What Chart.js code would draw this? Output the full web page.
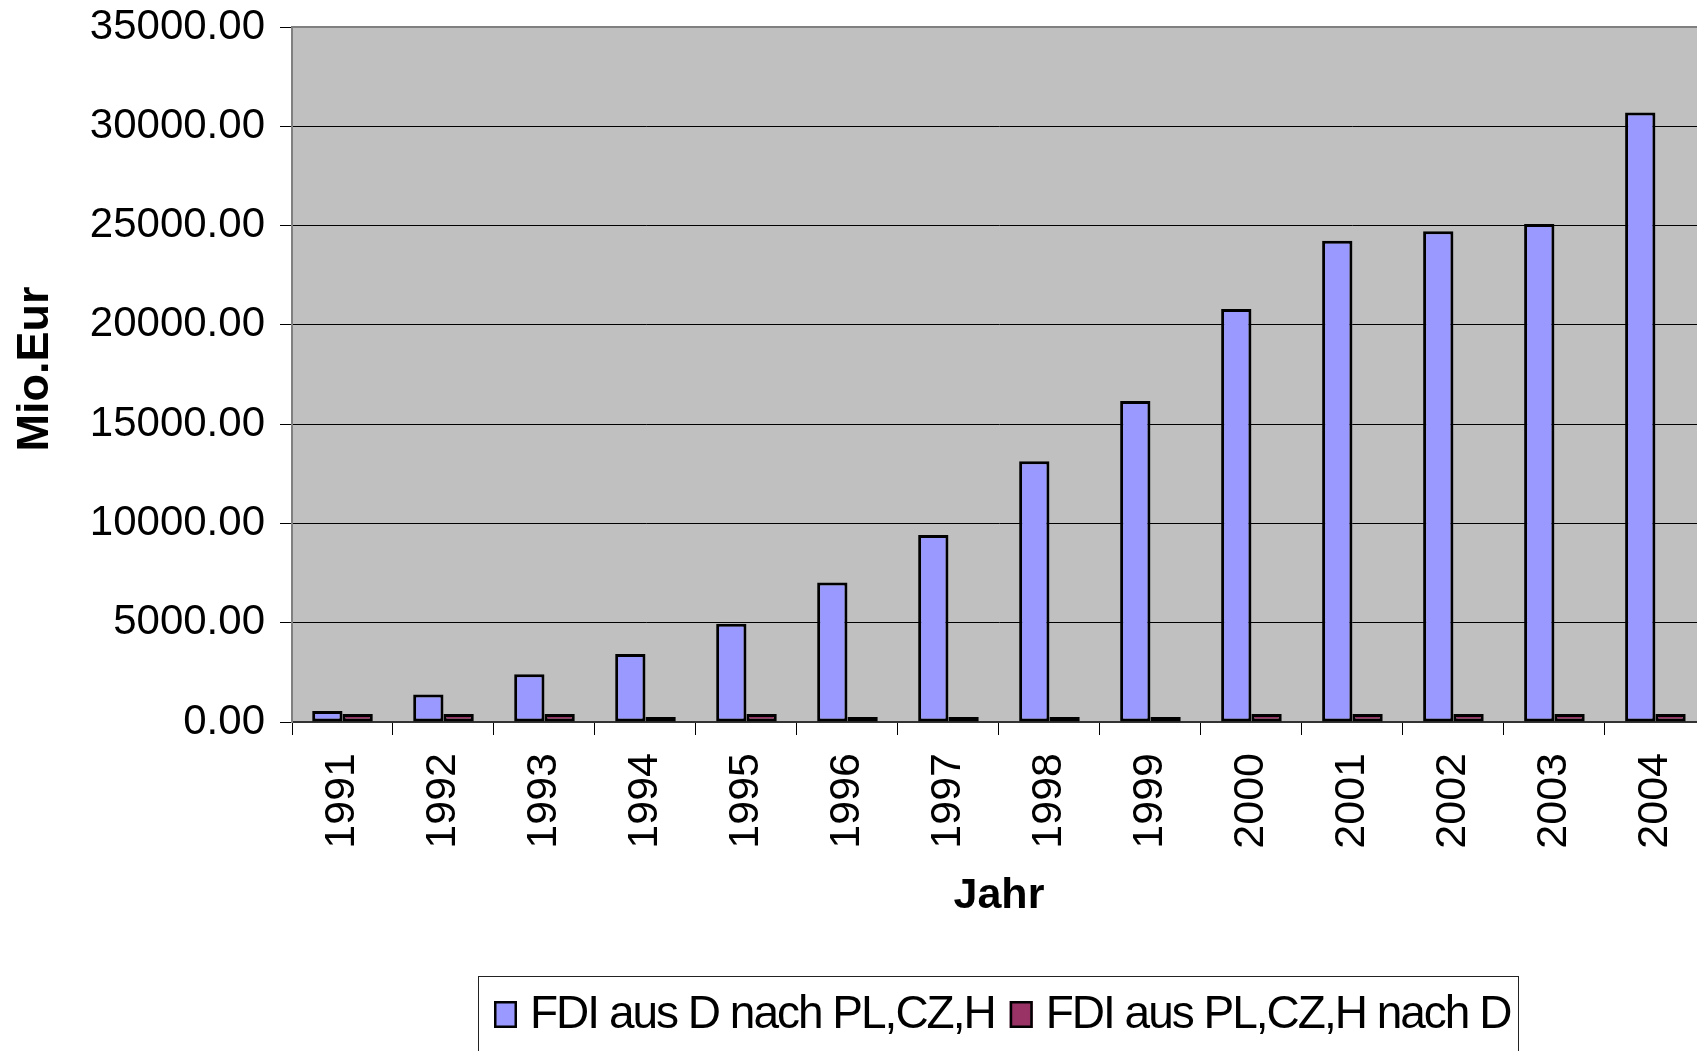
<!DOCTYPE html>
<html>
<head>
<meta charset="utf-8">
<script src="https://cdn.jsdelivr.net/npm/chart.js@4.4.1/dist/chart.umd.min.js"></script>
<style>
html,body{margin:0;padding:0;overflow:hidden;background:#fff;width:1697px;height:1051px}
canvas{display:block}
</style>
</head>
<body>
<canvas id="c" width="1725" height="1051" style="width:1725px;height:1051px"></canvas>
<script>
// ---- data ----
const years = ['1991','1992','1993','1994','1995','1996','1997','1998','1999','2000','2001','2002','2003','2004'];
const fdiFromGermany = [550, 1390, 2400, 3430, 4950, 7030, 9420, 13130, 16170, 20800, 24230, 24720, 25080, 30700];
const fdiToGermany   = [400, 400, 400, 250, 400, 250, 250, 250, 250, 400, 400, 400, 400, 400];
const seriesLabels = ['FDI aus D nach PL,CZ,H', 'FDI aus PL,CZ,H nach D'];
const yMin = 0, yMax = 35000, yStep = 5000;
const xTitle = 'Jahr';
const yTitle = 'Mio.Eur';

const FONT = 'Liberation Sans, Arial, Helvetica, sans-serif';
Chart.defaults.font.family = FONT;
Chart.defaults.color = '#000';

const plotBackground = {
  id: 'plotBackground',
  beforeDraw(chart) {
    const {ctx, chartArea: a} = chart;
    ctx.save();
    ctx.fillStyle = '#C0C0C0';
    ctx.fillRect(a.left, a.top, chart.width - a.left, a.bottom - a.top);
    ctx.strokeStyle = '#808080';
    ctx.lineWidth = 2;
    ctx.beginPath();
    ctx.moveTo(a.left, a.bottom);
    ctx.lineTo(a.left, a.top);
    ctx.lineTo(chart.width, a.top);
    ctx.stroke();
    ctx.restore();
  }
};

const extraText = {
  id: 'extraText',
  afterDraw(chart) {
    const ctx = chart.ctx;
    // y axis title
    ctx.save();
    ctx.translate(36, 369);
    ctx.rotate(-Math.PI / 2);
    ctx.font = 'bold 45px ' + FONT;
    ctx.fillStyle = '#000';
    ctx.textAlign = 'center';
    ctx.textBaseline = 'middle';
    ctx.fillText(yTitle, 0, 0);
    ctx.restore();

    // legend
    ctx.save();
    ctx.strokeStyle = '#222';
    ctx.lineWidth = 1;
    ctx.strokeRect(478.5, 976.5, 1040, 120);
    ctx.font = '46px ' + FONT;
    ctx.letterSpacing = '-2px';
    ctx.textBaseline = 'alphabetic';
    ctx.textAlign = 'left';
    let x = 494;
    chart.data.datasets.forEach((ds) => {
      ctx.fillStyle = ds.backgroundColor;
      ctx.fillRect(x, 1001, 23, 27);
      ctx.strokeStyle = '#000';
      ctx.lineWidth = 2.5;
      ctx.strokeRect(x + 1.25, 1002.25, 20.5, 24.5);
      ctx.fillStyle = '#000';
      const tx = x + 23 + 13;
      ctx.fillText(ds.label, tx, 1028);
      x = tx + ctx.measureText(ds.label).width + 15;
    });
    ctx.restore();
  }
};

new Chart(document.getElementById('c'), {
  type: 'bar',
  data: {
    labels: years,
    datasets: [
      {label: seriesLabels[0], data: fdiFromGermany, backgroundColor: '#9999FF', borderColor: '#000', borderWidth: 3, borderSkipped: false},
      {label: seriesLabels[1], data: fdiToGermany, backgroundColor: '#993366', borderColor: '#000', borderWidth: 3, borderSkipped: false}
    ]
  },
  options: {
    responsive: false,
    animation: false,
    devicePixelRatio: 1,
    layout: {padding: {top: 27, left: 0, right: 0, bottom: 0}},
    datasets: {bar: {categoryPercentage: 0.6, barPercentage: 1.0}},
    plugins: {legend: {display: false}, tooltip: {enabled: false}},
    scales: {
      x: {
        grid: {display: true, drawOnChartArea: false, drawTicks: true, tickLength: 13, tickColor: '#000', offset: true},
        border: {display: true, color: '#333', width: 2},
        ticks: {minRotation: 90, maxRotation: 90, autoSkip: false, padding: 18, font: {size: 43}, color: '#000'},
        title: {display: true, text: xTitle, font: {size: 43, weight: 'bold'}, color: '#000', padding: {top: 0, bottom: 129}},
        afterFit(scale) { scale.height = 329; }
      },
      y: {
        min: yMin, max: yMax,
        grid: {
          color: (c) => (c.tick && c.tick.value === yMax) ? '#808080' : '#000',
          lineWidth: 1, tickLength: 12, tickColor: '#000', drawTicks: true
        },
        border: {display: true, color: '#808080', width: 2},
        ticks: {stepSize: yStep, padding: 15, font: {size: 42, lineHeight: 0.5}, color: '#000', callback: (v) => Number(v).toFixed(2)},
        afterFit(scale) { scale.width = 292; }
      }
    }
  },
  plugins: [plotBackground, extraText]
});
</script>
</body>
</html>
